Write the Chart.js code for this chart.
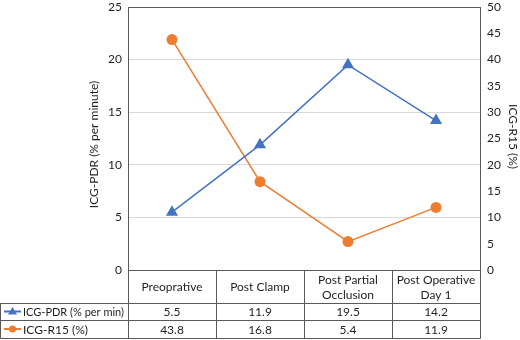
<!DOCTYPE html>
<html>
<head>
<meta charset="utf-8">
<script src="https://cdn.jsdelivr.net/npm/chart.js@4"></script>
<style>
  html, body { margin: 0; padding: 0; background: #fff; }
  #wrap { width: 520px; height: 340px; }
</style>
</head>
<body>
<div id="wrap"><canvas id="icg-chart"></canvas></div>
<script>
const stages = [['Preoprative'], ['Post Clamp'], ['Post Partial', 'Occlusion'], ['Post Operative', 'Day 1']]
const pdrValues = [5.5, 11.9, 19.5, 14.2]
const r15Values = [43.8, 16.8, 5.4, 11.9]
const pdrLabel = 'ICG-PDR (% per min)'
const r15Label = 'ICG-R15 (%)'
const pdrAxisTitle = 'ICG-PDR (% per minute)'
const r15AxisTitle = 'ICG-R15 (%)'

const blue = '#4472C4'
const orange = '#ED7D31'
const lineColor = '#595959'
const textColor = '#1f1f1f'
const fontFamily = 'Lato, "Liberation Sans", sans-serif'
const fontSize = 12

// data table underneath the plot + axis titles + frame
const tablePlugin = {
   id: 'dataTable',
   afterDraw(chart) {
      const c = chart.ctx
      const area = chart.chartArea
      const x = chart.scales.x
      const headTop = area.bottom
      const row1 = headTop + 33
      const row2 = row1 + 17
      const bottom = row2 + 18
      const step = (area.right - area.left) / stages.length

      c.save()
      c.strokeStyle = lineColor
      c.lineWidth = 1

      // frame
      c.beginPath()
      c.moveTo(area.left, area.top + 0.5)
      c.lineTo(area.right + 0.5, area.top + 0.5)
      c.lineTo(area.right + 0.5, bottom + 0.5)
      c.lineTo(0.5, bottom + 0.5)
      c.lineTo(0.5, row1 + 0.5)
      c.lineTo(area.left, row1 + 0.5)
      c.moveTo(area.left + 0.5, area.top)
      c.lineTo(area.left + 0.5, bottom)
      c.moveTo(area.left, headTop + 0.5)
      c.lineTo(area.right, headTop + 0.5)
      c.moveTo(0, row1 + 0.5)
      c.lineTo(area.right, row1 + 0.5)
      c.moveTo(0, row2 + 0.5)
      c.lineTo(area.right, row2 + 0.5)
      for (let i = 1; i < stages.length; i++) {
         const px = Math.round(area.left + step * i) + 0.5
         c.moveTo(px, headTop)
         c.lineTo(px, bottom)
      }
      c.stroke()

      c.fillStyle = textColor
      c.font = fontSize + 'px ' + fontFamily
      c.textAlign = 'center'
      c.textBaseline = 'middle'

      stages.forEach((lines, i) => {
         const cx = x.getPixelForValue(i)
         const mid = (headTop + row1) / 2 + 1
         lines.forEach((t, j) => {
            c.fillText(t, cx, mid + (j - (lines.length - 1) / 2) * 15)
         })
         c.fillText(pdrValues[i].toFixed(1), cx, (row1 + row2) / 2 + 1)
         c.fillText(r15Values[i].toFixed(1), cx, (row2 + bottom) / 2 + 1)
      })

      // series keys in the first column
      const keys = [
         { label: pdrLabel, color: blue, y: (row1 + row2) / 2, shape: 'triangle' },
         { label: r15Label, color: orange, y: (row2 + bottom) / 2, shape: 'circle' }
      ]
      keys.forEach(k => {
         c.strokeStyle = k.color
         c.fillStyle = k.color
         c.lineWidth = 2
         c.beginPath()
         c.moveTo(4, k.y)
         c.lineTo(21, k.y)
         c.stroke()
         c.beginPath()
         if (k.shape === 'triangle') {
            c.moveTo(12.5, k.y - 4.5)
            c.lineTo(17, k.y + 3)
            c.lineTo(8, k.y + 3)
            c.closePath()
         } else {
            c.arc(12.5, k.y, 3.5, 0, Math.PI * 2)
         }
         c.fill()
         c.fillStyle = textColor
         c.textAlign = 'left'
         c.fillText(k.label, 23, k.y + 1, area.left - 27)
      })

      // axis titles
      c.fillStyle = textColor
      c.textAlign = 'center'
      c.save()
      c.translate(94, (area.top + area.bottom) / 2 + 6)
      c.rotate(-Math.PI / 2)
      c.fillText(pdrAxisTitle, 0, 0)
      c.restore()
      c.save()
      c.translate(513, (area.top + area.bottom) / 2 - 2)
      c.rotate(Math.PI / 2)
      c.fillText(r15AxisTitle, 0, 0)
      c.restore()

      c.restore()
   }
}

new Chart(document.getElementById('icg-chart'), {
   type: 'line',
   data: {
      labels: stages,
      datasets: [{
         label: pdrLabel,
         data: pdrValues,
         yAxisID: 'y',
         borderColor: blue,
         backgroundColor: blue,
         borderWidth: 1.5,
         pointStyle: 'triangle',
         pointRadius: 7,
         pointHoverRadius: 7,
         pointBorderWidth: 0
      }, {
         label: r15Label,
         data: r15Values,
         yAxisID: 'y1',
         borderColor: orange,
         backgroundColor: orange,
         borderWidth: 1.5,
         pointStyle: 'circle',
         pointRadius: 5.5,
         pointHoverRadius: 5.5,
         pointBorderWidth: 0
      }]
   },
   options: {
      responsive: true,
      maintainAspectRatio: false,
      animation: false,
      layout: { padding: { top: 4, bottom: 70, left: 0, right: 0 } },
      plugins: {
         legend: { display: false },
         tooltip: { enabled: false }
      },
      scales: {
         x: {
            offset: true,
            ticks: { display: false },
            grid: { display: false, drawTicks: false, offset: true },
            border: { display: false },
            afterFit: s => { s.height = 0; s.paddingLeft = 0; s.paddingRight = 0 }
         },
         y: {
            position: 'left',
            min: 0,
            max: 25,
            ticks: { stepSize: 5, padding: 6, color: textColor, font: { family: fontFamily, size: fontSize } },
            grid: { color: '#d9d9d9', drawTicks: false },
            border: { display: true, color: lineColor },
            afterFit: s => { s.width = 128; s.paddingTop = 0; s.paddingBottom = 0 }
         },
         y1: {
            position: 'right',
            min: 0,
            max: 50,
            ticks: { stepSize: 5, padding: 7, color: textColor, font: { family: fontFamily, size: fontSize } },
            grid: { drawOnChartArea: false, drawTicks: false },
            border: { display: true, color: lineColor },
            afterFit: s => { s.width = 40; s.paddingTop = 0; s.paddingBottom = 0 }
         }
      }
   },
   plugins: [tablePlugin]
})
</script>
</body>
</html>
